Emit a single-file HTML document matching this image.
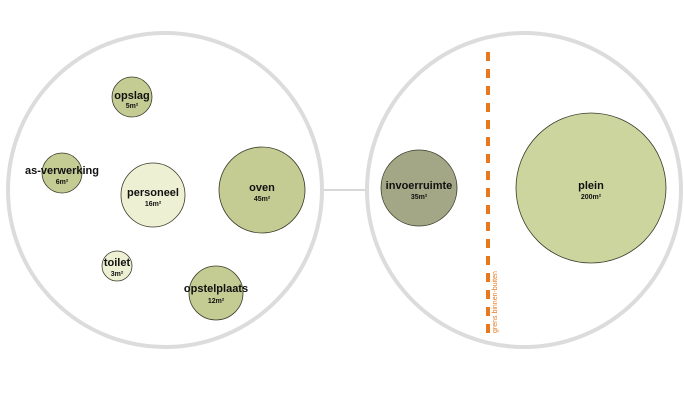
<!DOCTYPE html>
<html><head><meta charset="utf-8"><style>
html,body{margin:0;padding:0;background:#fff;width:684px;height:400px;overflow:hidden}
svg{display:block}
text{font-family:"Liberation Sans",sans-serif;font-weight:bold;fill:#111;text-anchor:middle}
.l{font-size:11px}.s{font-size:7px}
</style></head><body>
<svg width="684" height="400" viewBox="0 0 684 400">
<line x1="323" y1="190" x2="365" y2="190" stroke="#d8d8d8" stroke-width="2"/>
<circle cx="165" cy="190" r="157" fill="#fff" stroke="#dcdcdc" stroke-width="4"/>
<circle cx="524" cy="190" r="157" fill="#fff" stroke="#dcdcdc" stroke-width="4"/>
<g stroke="#3a3a2a" stroke-width="0.8">
<circle cx="132" cy="97" r="20" fill="#c5cc93"/>
<circle cx="62" cy="173" r="20" fill="#c5cc93"/>
<circle cx="153" cy="195" r="32" fill="#eef0d3"/>
<circle cx="262" cy="190" r="43" fill="#c5cc93"/>
<circle cx="117" cy="266" r="15" fill="#eef0d3"/>
<circle cx="216" cy="293" r="27" fill="#c5cc93"/>
<circle cx="419" cy="188" r="38" fill="#a3a786"/>
<circle cx="591" cy="188" r="75" fill="#cdd59f"/>
</g>
<line x1="488" y1="52" x2="488" y2="333" stroke="#e8781e" stroke-width="4" stroke-dasharray="9,8"/>
<text x="497" y="333" transform="rotate(-90 497 333)" style="font-size:7px;font-weight:normal;fill:#e8781e;text-anchor:start">grens binnen-buiten</text>
<text class="l" x="132" y="99">opslag</text><text class="s" x="132" y="108">5m²</text>
<text class="l" x="62" y="174">as-verwerking</text><text class="s" x="62" y="184">6m²</text>
<text class="l" x="153" y="196">personeel</text><text class="s" x="153" y="206">16m²</text>
<text class="l" x="262" y="191">oven</text><text class="s" x="262" y="201">45m²</text>
<text class="l" x="117" y="266">toilet</text><text class="s" x="117" y="276">3m²</text>
<text class="l" x="216" y="292">opstelplaats</text><text class="s" x="216" y="303">12m²</text>
<text class="l" x="419" y="189">invoerruimte</text><text class="s" x="419" y="199">35m²</text>
<text class="l" x="591" y="189">plein</text><text class="s" x="591" y="199">200m²</text>
</svg>
</body></html>
